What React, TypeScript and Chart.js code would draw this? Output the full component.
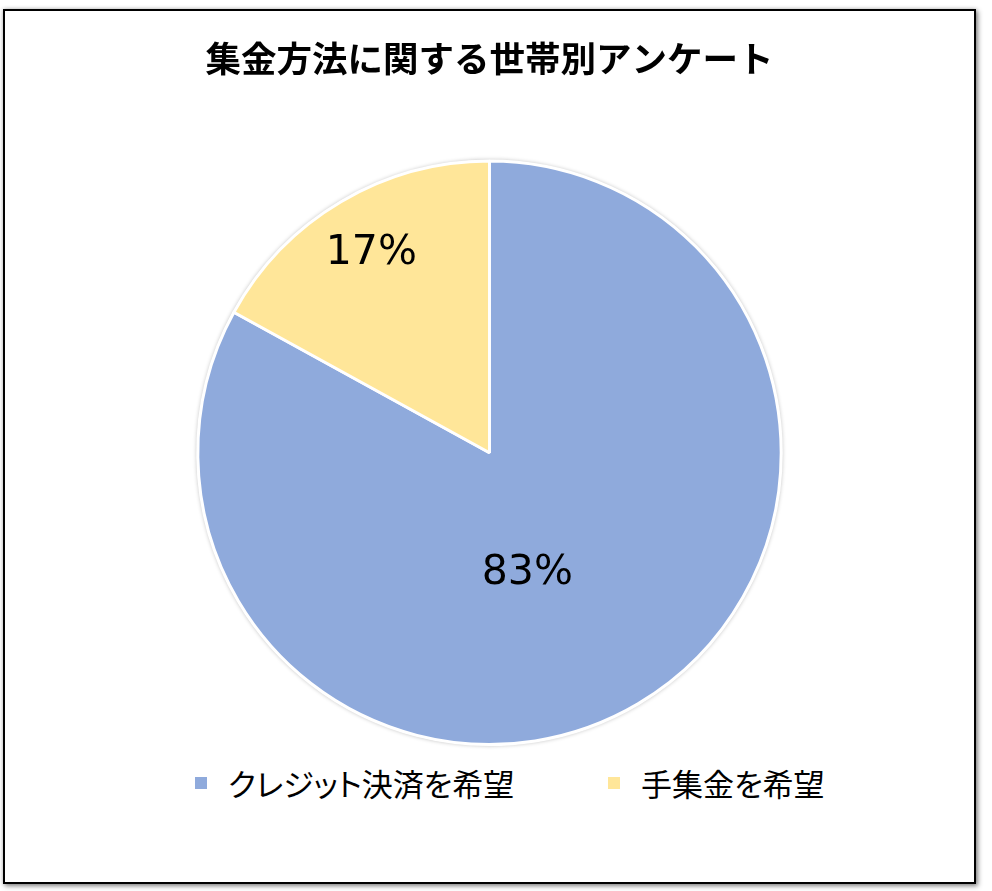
import { useEffect, useRef } from "react";
import { Chart, registerables } from "chart.js";

Chart.register(...registerables);

const TITLE = "集金方法に関する世帯別アンケート";
const CATEGORIES = ["クレジット決済を希望", "手集金を希望"];
const SHARES = [83, 17];
const COLORS = ["#8faadc", "#ffe699"];

// label placement per slice: fraction of radius, angle shift (deg)
const LABEL_RADIUS = [0.433, 0.796];
const LABEL_SHIFT = [13.2, 0];
// legend item left edges inside the frame
const LEGEND_LEFT = [190, 603];

const pieShadowPlugin = {
  id: "pieShadow",
  beforeDatasetsDraw(chart: Chart) {
    const arc = chart.getDatasetMeta(0).data[0] as any;
    if (!arc) return;
    const { ctx } = chart;
    ctx.save();
    ctx.beginPath();
    ctx.arc(arc.x, arc.y, arc.outerRadius + 1, 0, Math.PI * 2);
    ctx.fillStyle = "#ffffff";
    ctx.shadowColor = "rgba(0,0,0,0.28)";
    ctx.shadowBlur = 4;
    ctx.fill();
    ctx.restore();
  },
};

const percentLabelPlugin = {
  id: "percentLabels",
  afterDatasetsDraw(chart: Chart) {
    const { ctx } = chart;
    const meta = chart.getDatasetMeta(0);
    ctx.save();
    ctx.font = "41px 'DejaVu Sans', sans-serif";
    ctx.fillStyle = "#000000";
    ctx.textAlign = "center";
    ctx.textBaseline = "middle";
    meta.data.forEach((el, i) => {
      const a = el as any;
      const mid = (a.startAngle + a.endAngle) / 2 + (LABEL_SHIFT[i] * Math.PI) / 180;
      const r = a.outerRadius * LABEL_RADIUS[i];
      ctx.fillText(`${SHARES[i]}%`, a.x + Math.cos(mid) * r, a.y + Math.sin(mid) * r);
    });
    ctx.restore();
  },
};

export default function App() {
  const canvasRef = useRef<HTMLCanvasElement>(null);

  useEffect(() => {
    if (!canvasRef.current) return;
    const chart = new Chart(canvasRef.current, {
      type: "pie",
      data: {
        labels: CATEGORIES,
        datasets: [
          {
            data: SHARES,
            backgroundColor: COLORS,
            borderColor: "#ffffff",
            borderWidth: 3,
          },
        ],
      },
      options: {
        responsive: false,
        animation: false,
        layout: { padding: { top: 0, bottom: 10, left: 0, right: 0 } },
        plugins: {
          legend: { display: false },
          tooltip: { enabled: false },
          title: {
            display: true,
            text: TITLE,
            color: "#000000",
            font: { family: "'Noto Sans CJK JP', sans-serif", size: 35.5, weight: "bold", lineHeight: 1.2 },
            padding: { top: 26, bottom: 80 },
          },
        },
      },
      plugins: [pieShadowPlugin, percentLabelPlugin],
    });
    return () => chart.destroy();
  }, []);

  return (
    <div
      style={{
        position: "absolute",
        left: 0,
        top: 0,
        width: 992,
        height: 891,
        background: "#ffffff",
        overflow: "hidden",
      }}
    >
      <div
        style={{
          position: "absolute",
          left: 3,
          top: 9,
          width: 973,
          height: 875,
          boxSizing: "border-box",
          border: "2px solid #000000",
          boxShadow: "2px 2px 5px rgba(0,0,0,0.45), 0 0 4px rgba(0,0,0,0.2)",
          background: "#ffffff",
        }}
      >
        <canvas
          ref={canvasRef}
          width={969}
          height={745}
          style={{ position: "absolute", left: 0, top: 0, width: 969, height: 745 }}
        />
        {CATEGORIES.map((c, i) => (
          <div
            key={c}
            style={{
              position: "absolute",
              left: LEGEND_LEFT[i],
              top: 752,
              display: "flex",
              alignItems: "center",
              fontFamily: "'Noto Sans CJK JP', sans-serif",
              fontFeatureSettings: "'palt'",
              fontSize: 31,
              color: "#000000",
              lineHeight: "40px",
              whiteSpace: "nowrap",
            }}
          >
            <span style={{ width: 12, height: 12, background: COLORS[i], marginRight: 21 }} />
            <span>{c}</span>
          </div>
        ))}
      </div>
    </div>
  );
}
